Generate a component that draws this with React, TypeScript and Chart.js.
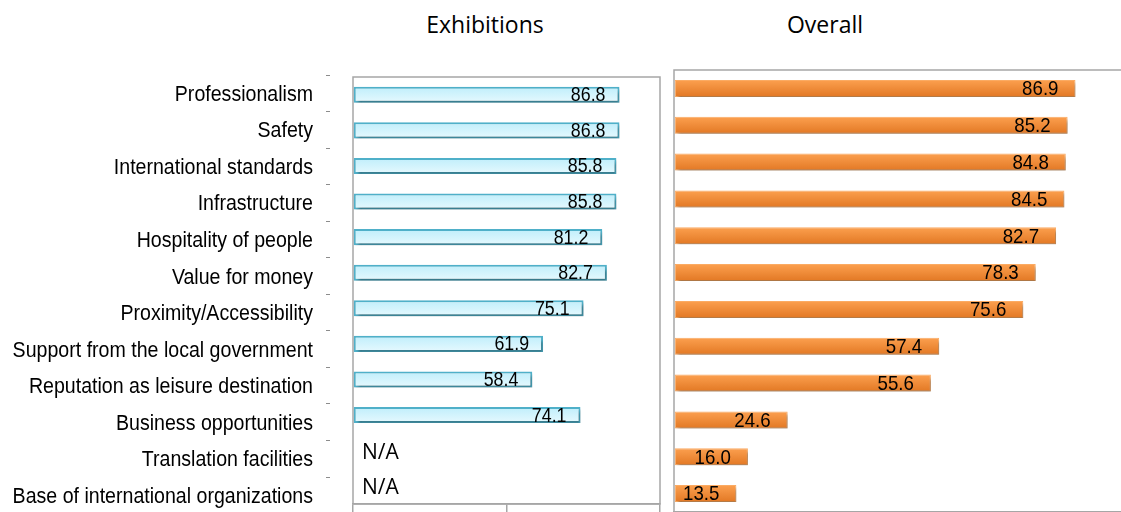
import React, { useEffect, useRef } from "react";
import { Chart, registerables } from "chart.js";

Chart.register(...registerables);

const categories = [
  "Professionalism",
  "Safety",
  "International standards",
  "Infrastructure",
  "Hospitality of people",
  "Value for money",
  "Proximity/Accessibility",
  "Support from the local government",
  "Reputation as leisure destination",
  "Business opportunities",
  "Translation facilities",
  "Base of international organizations",
];
const exhibitionValues: (number | null)[] = [86.8, 86.8, 85.8, 85.8, 81.2, 82.7, 75.1, 61.9, 58.4, 74.1, null, null];
const overallValues: number[] = [86.9, 85.2, 84.8, 84.5, 82.7, 78.3, 75.6, 57.4, 55.6, 24.6, 16.0, 13.5];
const axisMin = 0;
const axisMax = 100;
const axisStep = 50;
const panelTitles = ["Exhibitions", "Overall"];
const missingLabel = "N/A";

const SANS = "'Liberation Sans', Arimo, Arial, sans-serif";
const OPEN = "'Open Sans', 'Noto Sans', sans-serif";
const FRAME = "#a6a6a6";
const SQUEEZE = 0.89;

type DecorOpts = { box: boolean; gap: number; size: number; na?: string };

function drawNarrow(ctx: CanvasRenderingContext2D, text: string, x: number, y: number, size: number) {
  ctx.save();
  ctx.translate(x, y);
  ctx.scale(SQUEEZE, 1);
  ctx.font = `${size}px ${SANS}`;
  ctx.textAlign = "right";
  ctx.textBaseline = "middle";
  ctx.fillStyle = "#000";
  ctx.fillText(text, 0, 0);
  ctx.restore();
}

function makeDecor(o: DecorOpts) {
  return {
    id: "decor",
    beforeDatasetsDraw(chart: any) {
      const { ctx, chartArea: a } = chart;
      ctx.save();
      ctx.strokeStyle = FRAME;
      ctx.lineWidth = 1.5;
      ctx.beginPath();
      if (o.box) {
        ctx.rect(a.left, a.top, a.right - a.left, a.bottom - a.top);
      } else {
        ctx.moveTo(a.left, a.bottom);
        ctx.lineTo(a.left, a.top);
        ctx.lineTo(a.right + 60, a.top);
      }
      ctx.stroke();
      ctx.restore();
      ctx.save();
      ctx.shadowColor = "rgba(0,0,0,0.35)";
      ctx.shadowBlur = 3;
      ctx.shadowOffsetX = 2;
      ctx.shadowOffsetY = 3;
    },
    afterDatasetsDraw(chart: any) {
      const ctx = chart.ctx;
      ctx.restore();
      const meta = chart.getDatasetMeta(0);
      const data = chart.data.datasets[0].data;
      const xs = chart.scales.x;
      const ys = chart.scales.y;
      data.forEach((v: number | null, i: number) => {
        const y = ys.getPixelForValue(i);
        if (v == null) {
          if (o.na) {
            ctx.save();
            ctx.fillStyle = "#000";
            ctx.textBaseline = "middle";
            ctx.font = `21px ${OPEN}`;
            ctx.textAlign = "left";
            ctx.fillText(o.na, xs.getPixelForValue(0) + 9, y + 2);
            ctx.restore();
          }
          return;
        }
        const el = meta.data[i];
        drawNarrow(ctx, v.toFixed(1), el.x - o.gap, y + 1, o.size);
      });
    },
  };
}

const labelPlugin = {
  id: "labelText",
  afterDraw(chart: any) {
    const ys = chart.scales.y;
    chart.data.labels.forEach((lab: string, i: number) => {
      drawNarrow(chart.ctx, lab, 313, ys.getPixelForValue(i) + 1.5, 22);
    });
  },
};

function gradientFill(top: string, bottom: string, half: number) {
  return (c: any) => {
    const chart = c.chart;
    const ys = chart.scales && chart.scales.y;
    if (!chart.chartArea || !ys) return top;
    const y = ys.getPixelForValue(c.dataIndex);
    const g = chart.ctx.createLinearGradient(0, y - half, 0, y + half);
    g.addColorStop(0, top);
    g.addColorStop(1, bottom);
    return g;
  };
}

function xScale() {
  return {
    min: axisMin,
    max: axisMax,
    position: "bottom",
    ticks: { display: false, stepSize: axisStep },
    grid: { drawOnChartArea: false, drawTicks: true, tickLength: 8, color: FRAME, lineWidth: 1.5 },
    border: { display: true, color: FRAME, width: 1.5 },
    afterFit: (s: any) => {
      s.height = 8;
    },
  };
}

function LabelsChart() {
  const ref = useRef<HTMLCanvasElement>(null);
  useEffect(() => {
    const chart = new Chart(ref.current!, {
      type: "bar",
      data: { labels: categories, datasets: [] },
      options: {
        animation: false,
        responsive: false,
        devicePixelRatio: 1,
        indexAxis: "y",
        layout: { padding: { top: 75, bottom: 16.4, left: 0, right: 0 } },
        plugins: { legend: { display: false }, tooltip: { enabled: false } },
        scales: {
          x: { display: false, min: axisMin, max: axisMax },
          y: {
            type: "category",
            position: "left",
            offset: true,
            ticks: { display: false, autoSkip: false },
            grid: { offset: true, drawOnChartArea: false, tickLength: 4, color: "#8c8c8c", lineWidth: 1 },
            border: { display: false },
            afterFit: (s: any) => {
              s.width = 330;
            },
          },
        },
      } as any,
      plugins: [labelPlugin],
    });
    return () => chart.destroy();
  }, []);
  return <canvas ref={ref} width={331} height={530} style={{ position: "absolute", left: 0, top: 0 }} />;
}

function ExhibitionsChart() {
  const ref = useRef<HTMLCanvasElement>(null);
  useEffect(() => {
    const chart = new Chart(ref.current!, {
      type: "bar",
      data: {
        labels: categories,
        datasets: [
          {
            data: exhibitionValues,
            backgroundColor: gradientFill("#bfeefb", "#e6f9fe", 8),
            borderColor: "#4fb0c9",
            borderWidth: 2,
            borderSkipped: false,
            barPercentage: 0.45,
            categoryPercentage: 1,
          },
        ],
      },
      options: {
        animation: false,
        responsive: false,
        devicePixelRatio: 1,
        indexAxis: "y",
        layout: { padding: { top: 77, bottom: 28, left: 13, right: 10 } },
        plugins: { legend: { display: false }, tooltip: { enabled: false } },
        scales: {
          x: xScale(),
          y: { type: "category", display: false, offset: true },
        },
      } as any,
      plugins: [makeDecor({ box: true, gap: 14, size: 20, na: missingLabel })],
    });
    return () => chart.destroy();
  }, []);
  return <canvas ref={ref} width={330} height={540} style={{ position: "absolute", left: 340, top: 0 }} />;
}

function OverallChart() {
  const ref = useRef<HTMLCanvasElement>(null);
  useEffect(() => {
    const chart = new Chart(ref.current!, {
      type: "bar",
      data: {
        labels: categories,
        datasets: [
          {
            data: overallValues,
            backgroundColor: gradientFill("#fca04f", "#e27824", 8.5),
            borderColor: "#fbab63",
            borderWidth: 1,
            borderSkipped: false,
            barPercentage: 0.46,
            categoryPercentage: 1,
          },
        ],
      },
      options: {
        animation: false,
        responsive: false,
        devicePixelRatio: 1,
        indexAxis: "y",
        layout: { padding: { top: 70, bottom: 20, left: 11, right: 17 } },
        plugins: { legend: { display: false }, tooltip: { enabled: false } },
        scales: {
          x: xScale(),
          y: { type: "category", display: false, offset: true },
        },
      } as any,
      plugins: [makeDecor({ box: false, gap: 17, size: 21 })],
    });
    return () => chart.destroy();
  }, []);
  return <canvas ref={ref} width={490} height={540} style={{ position: "absolute", left: 663, top: 0 }} />;
}

const titleStyle = (cx: number): React.CSSProperties => ({
  position: "absolute",
  left: cx - 150,
  width: 300,
  top: 13,
  textAlign: "center",
  fontFamily: OPEN,
  fontSize: 23,
  lineHeight: "23px",
  color: "#000",
  whiteSpace: "nowrap",
});

export default function App() {
  return (
    <div
      style={{
        position: "absolute",
        left: 0,
        top: 0,
        width: 1121,
        height: 512,
        overflow: "hidden",
        background: "#fff",
      }}
    >
      <div style={titleStyle(485)}>{panelTitles[0]}</div>
      <div style={titleStyle(825)}>{panelTitles[1]}</div>
      <LabelsChart />
      <ExhibitionsChart />
      <OverallChart />
    </div>
  );
}
